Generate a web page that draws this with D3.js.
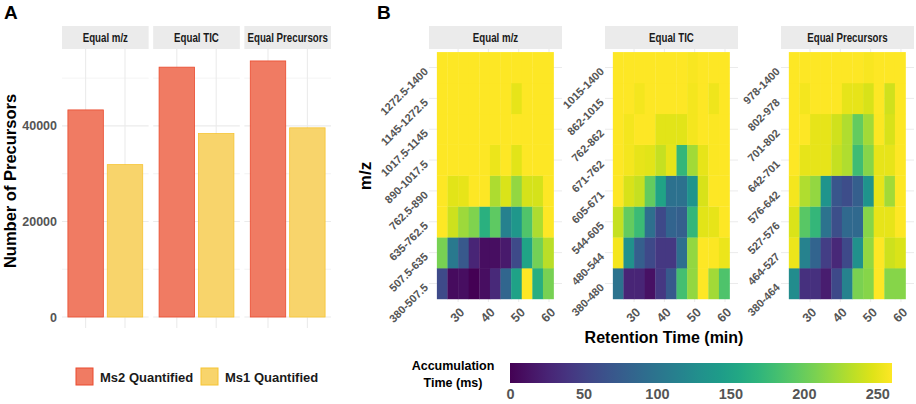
<!DOCTYPE html>
<html>
<head>
<meta charset="utf-8">
<script src="https://cdn.jsdelivr.net/npm/d3@7"></script>
<style>
body { margin: 0; background: #fff; }
text { font-family: "Liberation Sans", Arial, sans-serif; font-weight: bold; }
</style>
</head>
<body>
<div id="chart"></div>
<script>
// data {{{
const methods = ["Equal m/z", "Equal TIC", "Equal Precursors"];
const quantTypes = ["Ms2 Quantified", "Ms1 Quantified"];
const ms2Counts = [43350, 52300, 53600];
const ms1Counts = [31900, 38400, 39600];
const countTicks = [0, 20000, 40000];
const countMinor = [10000, 30000, 50000];

// retention time bins (min), centre of each 3.5 min column
const rtBins = [24.75, 28.25, 31.75, 35.25, 38.75, 42.25, 45.75, 49.25, 52.75, 56.25, 59.75];
const rtTicks = [30, 40, 50, 60];

// m/z windows, low to high
const mzEqualMz = ["380-507.5", "507.5-635", "635-762.5", "762.5-890", "890-1017.5", "1017.5-1145", "1145-1272.5", "1272.5-1400"];
const mzEqualTic = ["380-480", "480-544", "544-605", "605-671", "671-762", "762-862", "862-1015", "1015-1400"];
const mzEqualPrec = ["380-464", "464-527", "527-576", "576-642", "642-701", "701-802", "802-978", "978-1400"];

// accumulation time (ms), one row per m/z window (low to high), one value per rt bin
const accEqualMz = [
    [58, 8, 10, 0, 10, 30, 85, 150, 260, 163, 207],
    [207, 105, 72, 27, 10, 10, 18, 58, 152, 205, 233],
    [260, 240, 222, 210, 165, 195, 113, 138, 188, 228, 260],
    [260, 248, 250, 260, 260, 228, 245, 218, 243, 243, 260],
    [260, 260, 260, 260, 260, 252, 260, 248, 260, 260, 260],
    [260, 260, 260, 260, 260, 260, 260, 260, 260, 260, 260],
    [260, 260, 260, 260, 260, 260, 260, 250, 260, 260, 260],
    [260, 260, 260, 260, 260, 260, 260, 260, 260, 260, 260]
];
const accEqualTic = [
    [99, 27, 27, 12, 42, 73, 182, 218, 260, 224, 187],
    [255, 130, 78, 57, 42, 42, 94, 218, 260, 258, 252],
    [237, 198, 177, 94, 57, 83, 78, 172, 248, 250, 260],
    [260, 244, 237, 198, 151, 97, 97, 135, 244, 260, 260],
    [260, 255, 250, 248, 237, 250, 172, 224, 250, 258, 260],
    [260, 255, 260, 260, 248, 248, 248, 255, 260, 258, 260],
    [260, 260, 255, 260, 260, 260, 260, 255, 260, 253, 260],
    [260, 260, 260, 260, 260, 260, 260, 257, 260, 260, 260]
];
const accEqualPrec = [
    [125, 36, 36, 21, 57, 115, 208, 213, 260, 213, 213],
    [252, 115, 83, 47, 29, 57, 130, 218, 260, 240, 245],
    [245, 192, 172, 99, 62, 88, 88, 213, 250, 250, 260],
    [255, 229, 218, 135, 70, 60, 78, 135, 250, 224, 260],
    [260, 250, 250, 250, 237, 229, 179, 213, 250, 250, 260],
    [260, 260, 250, 250, 241, 229, 198, 224, 258, 244, 260],
    [260, 255, 260, 260, 260, 250, 250, 244, 260, 241, 260],
    [260, 260, 260, 260, 260, 260, 260, 257, 260, 260, 260]
];
const accTicks = [0, 50, 100, 150, 200, 250];
// }}}

// consts {{{
const W = 916, H = 404;
const grid_color = "#ebebeb";
const strip_color = "#ebebeb";
const tick_color = "#555555";
const bar_fill = ["#f07b63", "#f8d46b"];
const bar_stroke = ["#ea4b2e", "#f6c433"];

const svg = d3.select("#chart").append("svg")
    .attr("width", W)
    .attr("height", H);
svg.append("rect").attr("width", W).attr("height", H).attr("fill", "#fff");

const color = d3.scaleSequential(d3.interpolateViridis).domain([0, 260]);
// }}}

// helpers {{{
// strip(g, x, w, label): grey facet header, text squeezed like a condensed face
function strip(g, x, w, label) {
    g.append("rect")
        .attr("x", x).attr("y", 26)
        .attr("width", w).attr("height", 23)
        .attr("fill", strip_color);
    g.append("text")
        .attr("transform", "translate(" + (x + w / 2) + ",37.5) scale(0.72,1)")
        .attr("dy", "0.36em")
        .attr("text-anchor", "middle")
        .style("font-size", "13.5px")
        .attr("fill", "#1a1a1a")
        .text(label);
}

function title(x, y, txt, size, rot) {
    return svg.append("text")
        .attr("transform", "translate(" + x + "," + y + ")" + (rot ? " rotate(" + rot + ")" : ""))
        .attr("text-anchor", "middle")
        .style("font-size", size + "px")
        .attr("fill", "#000")
        .text(txt);
}
// }}}

// Panel A: bars {{{
function plot_bars() {
    const facetX = d3.scaleBand().domain(methods).range([62, 331]).paddingInner(0.05);
    const y = d3.scaleLinear().domain([-2300, 56100]).range([328, 49]);
    const fw = facetX.bandwidth();
    const x = d3.scalePoint().domain(quantTypes).range([0, fw]).padding(0.6);
    const bw = x.step() * 0.9;
    const counts = [ms2Counts, ms1Counts];

    methods.forEach(function(m, i) {
        const g = svg.append("g");
        const x0 = facetX(m);
        strip(g, x0, fw, m);

        g.selectAll(".minor").data(countMinor).enter().append("line")
            .attr("x1", x0).attr("x2", x0 + fw)
            .attr("y1", d => y(d)).attr("y2", d => y(d))
            .attr("stroke", grid_color).attr("stroke-width", 0.6);
        g.selectAll(".major").data(countTicks).enter().append("line")
            .attr("x1", x0).attr("x2", x0 + fw)
            .attr("y1", d => y(d)).attr("y2", d => y(d))
            .attr("stroke", grid_color).attr("stroke-width", 1.1);
        g.selectAll(".vgrid").data(quantTypes).enter().append("line")
            .attr("x1", d => x0 + x(d)).attr("x2", d => x0 + x(d))
            .attr("y1", y.range()[1]).attr("y2", y.range()[0])
            .attr("stroke", grid_color).attr("stroke-width", 1.1);

        g.selectAll(".bar").data(quantTypes).enter().append("rect")
            .attr("x", d => x0 + x(d) - bw / 2)
            .attr("width", bw)
            .attr("y", (d, k) => y(counts[k][i]))
            .attr("height", (d, k) => y(0) - y(counts[k][i]))
            .attr("fill", (d, k) => bar_fill[k])
            .attr("stroke", (d, k) => bar_stroke[k])
            .attr("stroke-width", 0.8);
    });

    const ax = svg.append("g")
        .attr("transform", "translate(62,0)")
        .call(d3.axisLeft(y).tickValues(countTicks).tickFormat(d3.format("d")).tickSize(0).tickPadding(5));
    ax.select(".domain").remove();
    ax.selectAll("text")
        .style("font-family", '"Liberation Sans", Arial, sans-serif')
        .style("font-weight", "bold")
        .style("font-size", "12.5px")
        .attr("fill", tick_color);

    title(16, 181, "Number of Precursors", 16.5, -90);
    svg.append("text").attr("x", 4).attr("y", 19).style("font-size", "19px").text("A");

    // legend
    const lg = svg.append("g");
    const keyX = [76, 201];
    quantTypes.forEach(function(q, k) {
        lg.append("rect")
            .attr("x", keyX[k]).attr("y", 368)
            .attr("width", 17).attr("height", 17)
            .attr("fill", bar_fill[k]).attr("stroke", bar_stroke[k]).attr("stroke-width", 1);
        lg.append("text")
            .attr("x", keyX[k] + 24).attr("y", 381.5)
            .style("font-size", "13px")
            .attr("fill", "#1a1a1a")
            .text(q);
    });
}
// }}}

// Panel B: heatmaps {{{
function plot_heatmaps() {
    const facetX = d3.scaleBand().domain(methods).range([429, 914]).paddingInner(0.244);
    const pw = facetX.bandwidth();
    const x = d3.scaleLinear().domain([20.4, 64.3]).range([0, pw]);
    const bins = [mzEqualMz, mzEqualTic, mzEqualPrec];
    const acc = [accEqualMz, accEqualTic, accEqualPrec];

    methods.forEach(function(m, i) {
        const g = svg.append("g");
        const x0 = facetX(m);
        const y = d3.scaleBand().domain(bins[i]).range([302, 49]).paddingOuter(0.1);
        strip(g, x0, pw, m);

        // grid behind tiles
        g.selectAll(".hg").data(bins[i]).enter().append("line")
            .attr("x1", x0).attr("x2", x0 + pw)
            .attr("y1", d => y(d) + y.bandwidth() / 2).attr("y2", d => y(d) + y.bandwidth() / 2)
            .attr("stroke", grid_color).attr("stroke-width", 1);
        g.selectAll(".vg").data(rtTicks).enter().append("line")
            .attr("x1", d => x0 + x(d)).attr("x2", d => x0 + x(d))
            .attr("y1", 49).attr("y2", 302)
            .attr("stroke", grid_color).attr("stroke-width", 1);

        const cells = [];
        bins[i].forEach(function(b, r) {
            rtBins.forEach(function(t, c) {
                cells.push({mz: b, rt: t, v: acc[i][r][c]});
            });
        });
        g.selectAll(".tile").data(cells).enter().append("rect")
            .attr("x", d => x0 + x(d.rt - 1.75))
            .attr("width", d => x(d.rt + 1.75) - x(d.rt - 1.75) + 0.3)
            .attr("y", d => y(d.mz))
            .attr("height", y.bandwidth() + 0.3)
            .attr("fill", d => color(d.v));

        // y labels
        g.selectAll(".yl").data(bins[i]).enter().append("text")
            .attr("transform", d => "translate(" + (x0 - 3) + "," + (y(d) + y.bandwidth() / 2 + 2) + ") rotate(-45)")
            .attr("text-anchor", "end")
            .attr("dy", "0.35em")
            .style("font-size", "11px")
            .attr("fill", tick_color)
            .text(d => d);

        // x labels
        g.selectAll(".xl").data(rtTicks).enter().append("text")
            .attr("transform", d => "translate(" + (x0 + x(d) + 1) + ",307) rotate(-45)")
            .attr("text-anchor", "end")
            .attr("dy", "0.7em")
            .style("font-size", "12.5px")
            .attr("fill", tick_color)
            .text(d => d);
    });

    title(371, 176, "m/z", 17, -90);
    title(664, 343, "Retention Time (min)", 16, 0);
    svg.append("text").attr("x", 377).attr("y", 19).style("font-size", "19px").text("B");
}
// }}}

// colour bar {{{
function plot_colorbar() {
    const lx = d3.scaleLinear().domain([0, 260]).range([510, 892]);
    const grad = svg.append("defs").append("linearGradient")
        .attr("id", "vir").attr("x1", "0%").attr("x2", "100%");
    d3.range(0, 1.0001, 0.05).forEach(function(t) {
        grad.append("stop").attr("offset", (t * 100) + "%").attr("stop-color", d3.interpolateViridis(t));
    });
    svg.append("rect")
        .attr("x", lx(0)).attr("y", 363)
        .attr("width", lx(260) - lx(0)).attr("height", 20)
        .attr("fill", "url(#vir)");

    const ax = svg.append("g")
        .attr("transform", "translate(0,384)")
        .call(d3.axisBottom(lx).tickValues(accTicks).tickSize(0).tickPadding(5));
    ax.select(".domain").remove();
    ax.selectAll("text")
        .style("font-family", '"Liberation Sans", Arial, sans-serif')
        .style("font-weight", "bold")
        .style("font-size", "14.5px")
        .attr("fill", tick_color);

    const lab = svg.append("text")
        .attr("x", 453).attr("text-anchor", "middle")
        .style("font-size", "12.5px").attr("fill", "#000");
    lab.append("tspan").attr("x", 453).attr("y", 370).text("Accumulation");
    lab.append("tspan").attr("x", 453).attr("y", 387).text("Time (ms)");
}
// }}}

plot_bars();
plot_heatmaps();
plot_colorbar();
</script>
</body>
</html>
